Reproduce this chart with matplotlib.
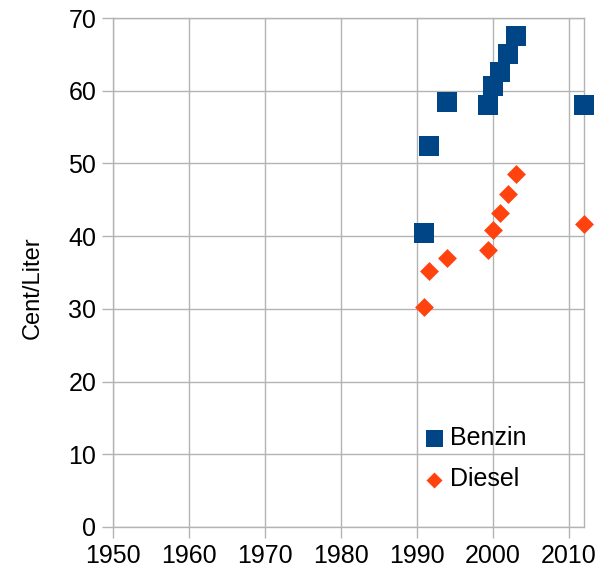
import matplotlib
matplotlib.use("Agg")
import matplotlib.pyplot as plt

plt.rcParams['font.family'] = ['Liberation Sans', 'DejaVu Sans']

years = [1991, 1991.6, 1994, 1999.4, 2000, 2001, 2002, 2003, 2012]
benzin_years = [1991, 1991.6, 1994, 1999.4, 2000, 2001, 2002, 2003, 2012]
benzin = [40.4, 52.4, 58.4, 58.1, 60.6, 62.6, 65.0, 67.5, 58.0]
diesel = [30.2, 35.2, 37.0, 38.1, 40.8, 43.2, 45.8, 48.5, 41.7]
xticks = [1950, 1960, 1970, 1980, 1990, 2000, 2010]
yticks = [0, 10, 20, 30, 40, 50, 60, 70]

fig = plt.figure(figsize=(6.04, 5.76), dpi=100)
ax = fig.add_axes([113/604, 1-527/576, (584-113)/604, (527-18)/576])

grid_c = '#b3b3b3'
ax.scatter(benzin_years, benzin, marker='s', s=14.4**2, color='#004586',
           label='Benzin', clip_on=False, zorder=3, linewidths=0)
ax.scatter(years, diesel, marker='D', s=9.6**2, color='#ff420e',
           label='Diesel', clip_on=False, zorder=3, linewidths=0)

ax.set_xlim(1950, 2012)
ax.set_ylim(0, 70)
ax.set_xticks(xticks)
ax.set_yticks(yticks)
ax.tick_params(axis='both', labelsize=18, color=grid_c, length=8, width=1,
               pad=4, direction='out')
ax.grid(True, color=grid_c, linewidth=1)
ax.set_axisbelow(True)
for s in ax.spines.values():
    s.set_color(grid_c)
    s.set_linewidth(1)
ax.set_ylabel('Cent/Liter', fontsize=17)
ax.yaxis.set_label_coords(-0.1465, 0.4695)

leg = ax.legend(loc='upper left', bbox_to_anchor=(424/604, 1-426/576),
                bbox_transform=fig.transFigure, frameon=False, fontsize=18,
                handlelength=0.8, handletextpad=0.25, labelspacing=0.7,
                borderpad=0, borderaxespad=0, scatterpoints=1,
                markerscale=0.85)

fig.savefig('out.png', dpi=100)
